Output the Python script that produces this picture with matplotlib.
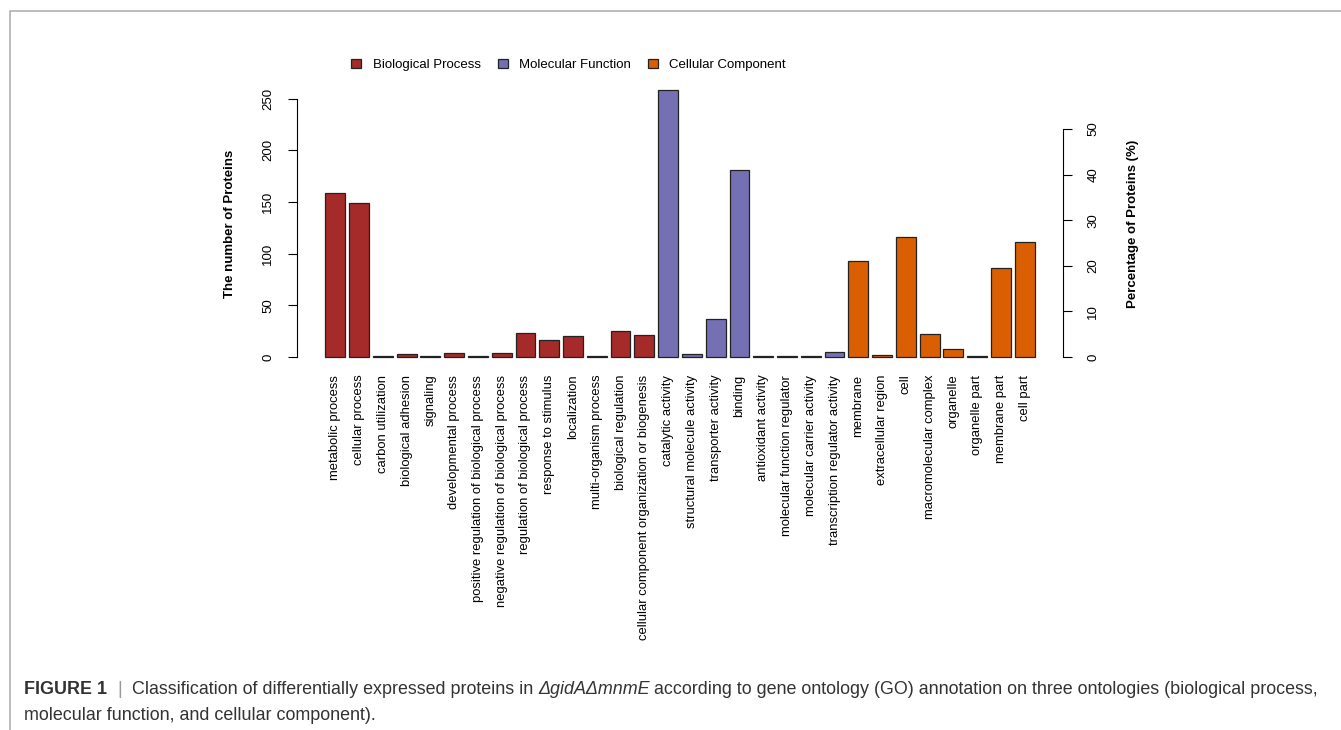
import numpy as np
import matplotlib
matplotlib.use("Agg")
import matplotlib.pyplot as plt
from matplotlib.patches import Patch
from matplotlib.lines import Line2D

plt.rcParams['font.family'] = ['Liberation Sans', 'DejaVu Sans']

# GO terms and protein counts
bp_terms = ["metabolic process", "cellular process", "carbon utilization",
            "biological adhesion", "signaling", "developmental process",
            "positive regulation of biological process",
            "negative regulation of biological process",
            "regulation of biological process", "response to stimulus",
            "localization", "multi-organism process", "biological regulation",
            "cellular component organization or biogenesis"]
bp_counts = [159, 149, 1, 3, 1, 4, 1, 4, 23, 16, 20, 1, 25, 21]

mf_terms = ["catalytic activity", "structural molecule activity",
            "transporter activity", "binding", "antioxidant activity",
            "molecular function regulator", "molecular carrier activity",
            "transcription regulator activity"]
mf_counts = [258, 3, 37, 181, 1, 1, 1, 5]

cc_terms = ["membrane", "extracellular region", "cell", "macromolecular complex",
            "organelle", "organelle part", "membrane part", "cell part"]
cc_counts = [93, 2, 116, 22, 8, 1, 86, 111]

total_proteins = 441  # used for the percentage axis

groups = ["Biological Process", "Molecular Function", "Cellular Component"]
group_colors = ["#A52A2A", "#7570B3", "#D95F02"]

terms = bp_terms + mf_terms + cc_terms
counts = np.array(bp_counts + mf_counts + cc_counts)
colors = ([group_colors[0]] * len(bp_terms) + [group_colors[1]] * len(mf_terms)
          + [group_colors[2]] * len(cc_terms))

fig = plt.figure(figsize=(13.41, 7.30), dpi=100)
W, H = 1341, 730
ax = fig.add_axes([297 / W, 1 - 367.7 / H, 766 / W, 288.1 / H])

# R barplot style: width 1, space 0.2
x = 0.7 + 1.2 * np.arange(len(terms))
ax.bar(x, counts, width=1.0, color=colors, edgecolor="#222222", linewidth=0.9)

span = (x[-1] + 0.5) - (x[0] - 0.5)
ax.set_xlim(x[0] - 0.5 - 0.04 * span, x[-1] + 0.5 + 0.04 * span)
ymax = counts.max()
ax.set_ylim(-0.04 * ymax, ymax * 1.04)

ax.set_xticks(x)
ax.set_xticklabels(terms, rotation=90, fontsize=9.4)
ax.tick_params(axis="x", length=0, pad=5)

ax.set_yticks(np.arange(0, 251, 50))
ax.tick_params(axis="y", length=6.5, width=0.8, pad=10, labelsize=9.5)
plt.setp(ax.get_yticklabels(), rotation=90, va="center", ha="right")
for s in ["top", "right", "bottom"]:
    ax.spines[s].set_visible(False)
ax.spines["left"].set_bounds(0, 250)
ax.spines["left"].set_linewidth(0.8)

ax2 = ax.twinx()
lo, hi = ax.get_ylim()
ax2.set_ylim(lo * 100 / total_proteins, hi * 100 / total_proteins)
ax2.set_yticks(np.arange(0, 51, 10))
ax2.tick_params(axis="y", length=6.5, width=0.8, pad=11, labelsize=9.5)
plt.setp(ax2.get_yticklabels(), rotation=90, va="center", ha="left")
for s in ["top", "left", "bottom"]:
    ax2.spines[s].set_visible(False)
ax2.spines["right"].set_bounds(0, 50)
ax2.spines["right"].set_linewidth(0.8)

fig.text(230 / W, 1 - 224 / H, "The number of Proteins", rotation=90,
         ha="center", va="center", fontsize=9.5, fontweight="bold")
fig.text(1133 / W, 1 - 224 / H, "Percentage of Proteins (%)", rotation=90,
         ha="center", va="center", fontsize=9.5, fontweight="bold")

handles = [Patch(facecolor=c, edgecolor="#222222", linewidth=0.9) for c in group_colors]
fig.legend(handles, groups, loc="center", bbox_to_anchor=(568.5 / W, 1 - 65 / H),
           ncol=3, frameon=False, fontsize=9.5, handlelength=0.75, handleheight=0.75,
           handletextpad=0.85, columnspacing=1.3)

# page frame
fig.add_artist(Line2D([9.5 / W, 9.5 / W, 1.0], [0, 1 - 10.5 / H, 1 - 10.5 / H],
                      transform=fig.transFigure, color="#aaaaaa", linewidth=1.1))

# caption
cap_size = 12.9
cap_color = "#333333"
renderer = fig.canvas.get_renderer()
space = 0.278 * cap_size * 100 / 72

pieces = [("FIGURE 1", "bold", "normal", cap_color, 2),
          ("|", "normal", "normal", "#999999", 2),
          ("Classification of differentially expressed proteins in", "normal", "normal", cap_color, 1),
          ("\u0394gidA\u0394mnmE", "normal", "italic", cap_color, 1),
          ("according to gene ontology (GO) annotation on three ontologies (biological process,",
           "normal", "normal", cap_color, 0)]
px = 24
for text, weight, style, col, gap in pieces:
    t = fig.text(px / W, 1 - 694 / H, text, fontsize=cap_size, fontweight=weight,
                 fontstyle=style, color=col, ha="left", va="baseline")
    bb = t.get_window_extent(renderer)
    px = bb.x1 + space * gap
fig.text(24 / W, 1 - 720 / H, "molecular function, and cellular component).",
         fontsize=cap_size, color=cap_color, ha="left", va="baseline")

fig.savefig("out.png", dpi=100)
